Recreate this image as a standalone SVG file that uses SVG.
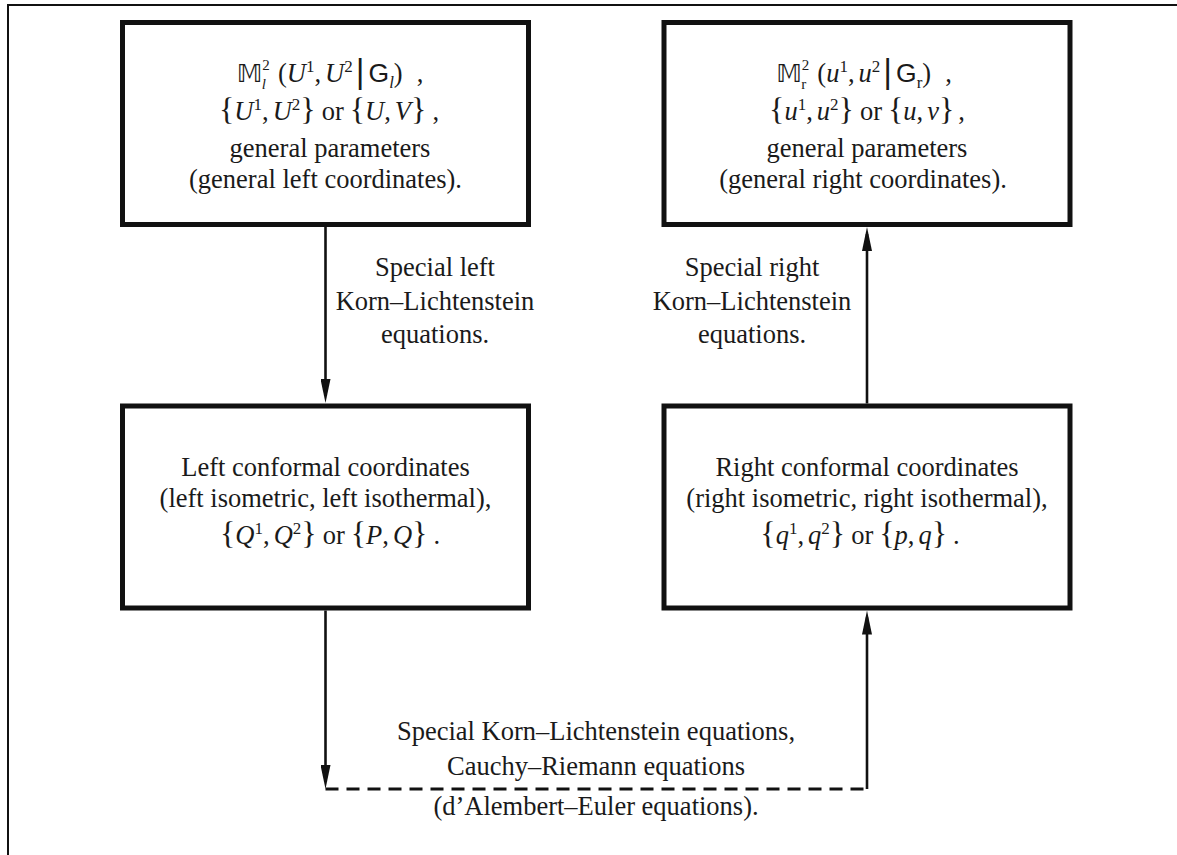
<svg xmlns="http://www.w3.org/2000/svg" width="1177" height="855" viewBox="0 0 1177 855">
<style>
.t { font-family: "Liberation Serif", "DejaVu Serif", serif; font-size: 26.5px; fill: #1a1a1a; }
.i { font-style: italic; }
.sup, .sub { font-size: 17px; }
.ss { font-size: 15px; }
.bb { font-family: "DejaVu Sans", "DejaVu Serif", "Noto Sans", sans-serif; font-size: 25px; }
.sf { font-family: "Liberation Sans", Arial, sans-serif; }
.br { font-size: 32px; }
.bar { font-family: "DejaVu Sans", sans-serif; font-size: 32px; }
.box { fill: #fff; stroke: #111; stroke-width: 5; }
.ln { fill: none; stroke: #111; stroke-width: 2.6; }
.dash { fill: none; stroke: #111; stroke-width: 3; stroke-dasharray: 13 8; }
.frame { fill: none; stroke: #111; stroke-width: 2; }
</style>
<defs>
<marker id="ah" viewBox="0 0 24 10" markerWidth="24" markerHeight="10" refX="17" refY="5" orient="auto" markerUnits="userSpaceOnUse">
<path d="M0,0 L24,5 L0,10 z" fill="#111"/>
</marker>
</defs>
<rect width="1177" height="855" fill="#fff"/>
<path class="frame" d="M8,855 V5 H1177"/>

<g id="connectors">
<path class="ln" d="M325.5,227 V396" marker-end="url(#ah)"/>
<path class="ln" d="M867,403.5 V234" marker-end="url(#ah)"/>
<path class="ln" d="M325.5,610.5 V782" marker-end="url(#ah)"/>
<path class="dash" d="M325.5,789 H867"/>
<path class="ln" d="M867,789 V617.5" marker-end="url(#ah)"/>
<text class="t" text-anchor="middle"><tspan x="435" y="276">Special left</tspan><tspan x="435" y="310">Korn–Lichtenstein</tspan><tspan x="435" y="343">equations.</tspan></text>
<text class="t" text-anchor="middle"><tspan x="752" y="276">Special right</tspan><tspan x="752" y="310">Korn–Lichtenstein</tspan><tspan x="752" y="343">equations.</tspan></text>
<text class="t" text-anchor="middle"><tspan x="596" y="740">Special Korn–Lichtenstein equations,</tspan><tspan x="596" y="775">Cauchy–Riemann equations</tspan><tspan x="596" y="815">(d’Alembert–Euler equations).</tspan></text>
</g>

<g id="node-general-left">
<rect class="box" x="122.5" y="22.5" width="406" height="202"/>
<text class="t" x="330" y="82" text-anchor="middle"><tspan class="bb">𝕄</tspan><tspan class="ss" dy="-12">2</tspan><tspan class="ss i" dx="-8" dy="19">l</tspan><tspan dx="12" dy="-7">(</tspan><tspan class="i">U</tspan><tspan class="sup" dy="-10">1</tspan><tspan dy="10">,</tspan><tspan class="i" dx="4">U</tspan><tspan class="sup" dy="-10">2</tspan><tspan class="bar" dx="2" dy="10">|</tspan><tspan class="sf" dx="3">G</tspan><tspan class="sub i" dy="6">l</tspan><tspan dy="-6">)</tspan><tspan dx="14">,</tspan></text>
<text class="t" x="329" y="120" text-anchor="middle"><tspan class="br">{</tspan><tspan class="i">U</tspan><tspan class="sup" dy="-10">1</tspan><tspan dy="10">,</tspan><tspan class="i" dx="4">U</tspan><tspan class="sup" dy="-10">2</tspan><tspan class="br" dy="10">}</tspan><tspan dx="6">or</tspan><tspan class="br" dx="6">{</tspan><tspan class="i">U</tspan><tspan>,</tspan><tspan class="i" dx="4">V</tspan><tspan class="br">}</tspan><tspan dx="6">,</tspan></text>
<text class="t" x="330" y="157" text-anchor="middle">general parameters</text>
<text class="t" x="325.5" y="188" text-anchor="middle">(general left coordinates).</text>
</g>

<g id="node-general-right">
<rect class="box" x="664" y="22.5" width="406" height="202"/>
<text class="t" x="864" y="82" text-anchor="middle"><tspan class="bb">𝕄</tspan><tspan class="ss" dy="-12">2</tspan><tspan class="ss" dx="-8" dy="19">r</tspan><tspan dx="11" dy="-7">(</tspan><tspan class="i">u</tspan><tspan class="sup" dy="-10">1</tspan><tspan dy="10">,</tspan><tspan class="i" dx="4">u</tspan><tspan class="sup" dy="-10">2</tspan><tspan class="bar" dx="2" dy="10">|</tspan><tspan class="sf" dx="3">G</tspan><tspan class="sub" dy="6">r</tspan><tspan dy="-6">)</tspan><tspan dx="14">,</tspan></text>
<text class="t" x="867" y="120" text-anchor="middle"><tspan class="br">{</tspan><tspan class="i">u</tspan><tspan class="sup" dy="-10">1</tspan><tspan dy="10">,</tspan><tspan class="i" dx="4">u</tspan><tspan class="sup" dy="-10">2</tspan><tspan class="br" dy="10">}</tspan><tspan dx="6">or</tspan><tspan class="br" dx="6">{</tspan><tspan class="i">u</tspan><tspan>,</tspan><tspan class="i" dx="4">v</tspan><tspan class="br">}</tspan><tspan dx="4">,</tspan></text>
<text class="t" x="867" y="157" text-anchor="middle">general parameters</text>
<text class="t" x="863" y="188" text-anchor="middle">(general right coordinates).</text>
</g>

<g id="node-conformal-left">
<rect class="box" x="122.5" y="406" width="406" height="202"/>
<text class="t" x="325.5" y="476" text-anchor="middle">Left conformal coordinates</text>
<text class="t" x="325.5" y="507" text-anchor="middle">(left isometric, left isothermal),</text>
<text class="t" x="330" y="544" text-anchor="middle"><tspan class="br">{</tspan><tspan class="i">Q</tspan><tspan class="sup" dy="-10">1</tspan><tspan dy="10">,</tspan><tspan class="i" dx="4">Q</tspan><tspan class="sup" dy="-10">2</tspan><tspan class="br" dy="10">}</tspan><tspan dx="6">or</tspan><tspan class="br" dx="6">{</tspan><tspan class="i">P</tspan><tspan>,</tspan><tspan class="i" dx="4">Q</tspan><tspan class="br">}</tspan><tspan dx="6">.</tspan></text>
</g>

<g id="node-conformal-right">
<rect class="box" x="664" y="406" width="406" height="202"/>
<text class="t" x="867" y="476" text-anchor="middle">Right conformal coordinates</text>
<text class="t" x="867" y="507" text-anchor="middle">(right isometric, right isothermal),</text>
<text class="t" x="860" y="544" text-anchor="middle"><tspan class="br">{</tspan><tspan class="i">q</tspan><tspan class="sup" dy="-10">1</tspan><tspan dy="10">,</tspan><tspan class="i" dx="4">q</tspan><tspan class="sup" dy="-10">2</tspan><tspan class="br" dy="10">}</tspan><tspan dx="6">or</tspan><tspan class="br" dx="6">{</tspan><tspan class="i">p</tspan><tspan>,</tspan><tspan class="i" dx="4">q</tspan><tspan class="br">}</tspan><tspan dx="6">.</tspan></text>
</g>
</svg>
